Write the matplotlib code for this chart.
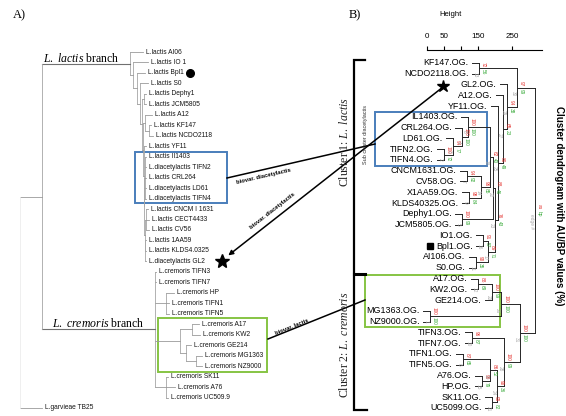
import matplotlib
matplotlib.use("Agg")
import matplotlib.pyplot as plt
from matplotlib.patches import Rectangle

plt.rcParams["mathtext.fontset"] = "custom"
plt.rcParams["mathtext.rm"] = "Liberation Serif"
plt.rcParams["mathtext.it"] = "Liberation Serif:italic"

SANS = "Liberation Sans"
SERIF = "Liberation Serif"
RED, GREEN, GREY = "#e3302c", "#34a835", "#a8a8a8"
BLUE_BOX, GREEN_BOX = "#4a7ebb", "#86c443"

# ---------------- panel A: genome tree ----------------
labels_a = ["L.lactis AI06", "L.lactis IO 1", "L.lactis Bpl1", "L.lactis S0", "L.lactis Dephy1",
            "L.lactis JCM5805", "L.lactis A12", "L.lactis KF147", "L.lactis NCDO2118", "L.lactis YF11",
            "L.lactis II1403", "L.diacetylactis TIFN2", "L.lactis CRL264", "L.diacetylactis LD61",
            "L.diacetylactis TIFN4", "L.lactis CNCM I 1631", "L.lactis CECT4433", "L.lactis CV56",
            "L.lactis 1AA59", "L.lactis KLDS4.0325", "L.diacetylactis GL2", "L.cremoris TIFN3",
            "L.cremoris TIFN7", "L.cremoris HP", "L.cremoris TIFN1", "L.cremoris TIFN5",
            "L.cremoris A17", "L.cremoris KW2", "L.cremoris GE214", "L.cremoris MG1363",
            "L.cremoris NZ9000", "L.cremoris SK11", "L.cremoris A76", "L.cremoris UC509.9",
            "L.garvieae TB25"]

# (branch length, leaf index or list of children)
lactis_clade = (88, [(13, 0),
    (3, [(15, 1),
    (4, [(8, 2),
    (3, [(8, 3),
    (2, [(2, [(2, 4), (2, 5)]),
         (1, [(2, [(7, 6), (4, [(2, 7), (4, 8)])]),
              (0.5, [(2.5, 9),
                     (0.5, [(1, [(1, 10), (1, 11), (1, 12), (1, 13), (1, 14)]),
                            (0.5, [(1.5, [(2, 15), (3, 16), (3, 17)]),
                                   (0.5, [(1, 18), (1, 19), (1, 20)])])])])])])])])])])
cremoris_clade = (113, [(1, 21), (1, 22),
                        (11, [(8, 23), (3, 24), (3, 25)]),
                        (25, [(12, [(7, 26), (8, 27)]),
                              (6, [(5, 28), (10, [(6, 29), (6, 30)])])]),
                        (11, [(2, 31), (9, 32), (2, 33)])])
tree_a = (0, [(22, [lactis_clade, cremoris_clade]), (22, 34)])

# ---------------- panel B: pvclust dendrogram ----------------
labels_b = ["KF147.OG.", "NCDO2118.OG.", "GL2.OG.", "A12.OG.", "YF11.OG.", "IL1403.OG.",
            "CRL264.OG.", "LD61.OG.", "TIFN2.OG.", "TIFN4.OG.", "CNCM1631.OG.", "CV58.OG.",
            "X1AA59.OG.", "KLDS40325.OG.", "Dephy1.OG.", "JCM5805.OG.", "IO1.OG.", "Bpl1.OG.",
            "AI106.OG.", "S0.OG.", "A17.OG.", "KW2.OG.", "GE214.OG.", "MG1363.OG.", "NZ9000.OG.",
            "TIFN3.OG.", "TIFN7.OG.", "TIFN1.OG.", "TIFN5.OG.", "A76.OG.", "HP.OG.", "SK11.OG.",
            "UC5099.OG."]
# hclust style merge table: negative = leaf, positive = earlier merge row
merge_left = [-24, -9, -8, -7, -15, -28, -11, -6, -13, -26, -19, -21, -1, 7, -30, -17,
              16, 8, 6, 12, -32, 18, 22, 19, -5, 20, -4, 10, -3, 13, 26, 30]
merge_right = [-25, -10, 2, 3, -16, -29, -12, 4, -14, -27, -20, -22, -2, 9, -31, -18,
               11, 14, 15, -23, -33, 5, 17, 21, 23, 1, 25, 24, 27, 29, 28, 31]
merge_height = [8, 50, 76, 103, 103, 105, 117, 120, 122, 132, 144, 150, 153, 160, 161, 164,
                180, 185, 185, 190, 191, 195, 200, 205, 208, 218, 223, 226, 235, 265, 272, 318]
au_values = [100, 100, 94, 100, 100, 87, 94, 100, 98, 96, 90, 88, 72, 96, 98, 91,
             89, 62, 86, 100, 99, 88, 76, 90, 80, 100, 65, 100, 94, 97, 100]
bp_values = [100, 72, 77, 100, 99, 65, 92, 100, 84, 87, 35, 69, 56, 85, 79, 57,
             71, 40, 52, 99, 82, 46, 43, 36, 49, 100, 23, 99, 38, 99, 100]
height_ticks = [0, 50, 100, 150, 250]
HANG = 20

fig = plt.figure(figsize=(5.66, 4.16), dpi=100)
ax = fig.add_axes([0, 0, 1, 1])
ax.set_xlim(0, 566)
ax.set_ylim(416, 0)
ax.axis("off")

# ---- panel A drawing ----
ys_a = [52 + i * 10.47 for i in range(len(labels_a))]


def draw_a(node, x_parent, depth=0):
    length, content = node
    x = x_parent + length
    if isinstance(content, int):
        y = ys_a[content]
        ax.text(x + 3, y, labels_a[content], fontsize=4.8, family=SANS,
                color="#151515", va="center", ha="left")
    else:
        kids = [draw_a(c, x, depth + 1) for c in content]
        y = (kids[0] + kids[-1]) / 2
        col = "#ececec" if depth == 0 else "#a5a5a5"
        ax.plot([x, x], [kids[0], kids[-1]], color=col, lw=0.6)
    if length:
        col = "#707070" if length > 50 else "#9a9a9a"
        ax.plot([x_parent, x], [y, y], color=col, lw=0.8 if length > 50 else 0.6)
    return y


draw_a(tree_a, 20)

ax.text(19, 15, "A)", family=SERIF, fontsize=9, ha="center", va="center")
ax.text(43, 62.5, r"$\mathit{L.\ lactis}$ branch", family=SERIF, fontsize=8.5, va="baseline")
ax.text(52, 327, r"$\mathit{L.\ cremoris}$ branch", family=SERIF, fontsize=8.5, va="baseline")
ax.plot(190, 73, "o", color="k", ms=5.5)
ax.plot(222, 261, "*", color="k", ms=10)
ax.add_patch(Rectangle((135, 152), 92, 51, fill=False, ec=BLUE_BOX, lw=1.4))
ax.add_patch(Rectangle((158, 318), 109, 54, fill=False, ec=GREEN_BOX, lw=1.4))

# ---- connections between panels ----
ax.plot([227, 375], [178, 144], color="k", lw=1.1)
ax.plot([268, 365], [339, 300], color="k", lw=1.1)
ax.annotate("", xy=(225, 258), xytext=(443, 87),
            arrowprops=dict(arrowstyle="-|>", color="k", lw=1.1, mutation_scale=7,
                            shrinkA=0, shrinkB=3))
ax.plot(443, 86, "*", color="k", ms=9)
arrow_txt = dict(family=SANS, fontsize=4.2, weight="bold", ha="center", va="center")
ax.text(264, 176, "biovar. diacetylactis", rotation=13, **arrow_txt)
ax.text(272, 211, "biovar. diacetylactis", rotation=38, **arrow_txt)
ax.text(292, 327, "biovar. lactis", rotation=22, **arrow_txt)

# ---- panel B annotations ----
ax.text(355, 15, "B)", family=SERIF, fontsize=9, ha="center", va="center")
ax.text(451, 15, "Height", family=SANS, fontsize=5.5, ha="center", va="center")
ax.plot([365, 354, 354, 367], [60, 60, 410, 410], color="k", lw=1.6,
        solid_joinstyle="miter")
ax.plot([354, 365], [274, 274], color="k", lw=2.2)
ax.text(345, 142, r"Cluster 1: $\mathit{L.\ lactis}$", family=SERIF, fontsize=8.5,
        rotation=90, ha="center", va="center", color="#222")
ax.text(345, 345, r"Cluster 2: $\mathit{L.\ cremoris}$", family=SERIF, fontsize=8.5,
        rotation=90, ha="center", va="center", color="#222")
ax.text(366, 134, "Sub cluster diacetylactis", family=SANS, fontsize=4, rotation=90,
        ha="center", va="center", color="#333")
ax.add_patch(Rectangle((375, 112), 112, 54, fill=False, ec=BLUE_BOX, lw=1.4))
ax.add_patch(Rectangle((365, 275), 135, 52, fill=False, ec=GREEN_BOX, lw=1.4))
ax.plot(430, 246, "s", color="k", ms=5)
ax.text(559, 206, "Cluster dendrogram with AU/BP values (%)", family=SANS, fontsize=7,
        weight="bold", rotation=-90, ha="center", va="center")

# ---- panel B dendrogram ----
ax_b = fig.add_axes([427 / 566, 6 / 416, 115 / 566, 360 / 416])
ax_b.patch.set_visible(False)
ax_b.set_xlim(0, 338)
ax_b.set_ylim(32.2, -1.2)
for side in ("left", "right", "bottom"):
    ax_b.spines[side].set_visible(False)
ax_b.spines["top"].set_linewidth(0.8)
ax_b.xaxis.tick_top()
ax_b.set_xticks(height_ticks)
ax_b.set_xticklabels([str(t) if t != 100 else "" for t in height_ticks])
ax_b.tick_params(axis="x", direction="out", length=3, width=0.8, pad=4.5, labelsize=5.8)
for t in ax_b.get_xticklabels():
    t.set_family(SANS)
ax_b.set_yticks([])

line_kw = dict(color="#262626", lw=0.7, clip_on=False)
node_y = []
for r, h in enumerate(merge_height):
    ys = []
    for c in (merge_left[r], merge_right[r]):
        if c < 0:
            i = -c - 1
            ax_b.plot([h - HANG, h], [i, i], **line_kw)
            ax_b.annotate(labels_b[i], (h - HANG, i), xytext=(-2.5, 0), textcoords="offset points",
                          ha="right", va="center", fontsize=6.4, family=SANS,
                          annotation_clip=False)
            ys.append(i)
        else:
            y = node_y[c - 1]
            ax_b.plot([merge_height[c - 1], h], [y, y], **line_kw)
            ys.append(y)
    ax_b.plot([h, h], ys, **line_kw)
    node_y.append(sum(ys) / 2)

num_kw = dict(textcoords="offset points", fontsize=3.4, family=SANS, rotation=-90,
              rotation_mode="anchor", va="center", annotation_clip=False)
for r, (h, y) in enumerate(zip(merge_height, node_y)):
    if r < len(au_values):
        au, bp, edge = str(au_values[r]), str(bp_values[r]), str(r + 1)
    else:
        au, bp, edge = "au", "bp", "edge #"
    ax_b.annotate(au, (h, y), xytext=(3.2, 0.8), ha="right", color=RED, **num_kw)
    ax_b.annotate(bp, (h, y), xytext=(3.2, -0.8), ha="left", color=GREEN, **num_kw)
    ax_b.annotate(edge, (h, y), xytext=(-2.6, -2.5), ha="left", color=GREY, **num_kw)

fig.savefig("out.png", dpi=100)
